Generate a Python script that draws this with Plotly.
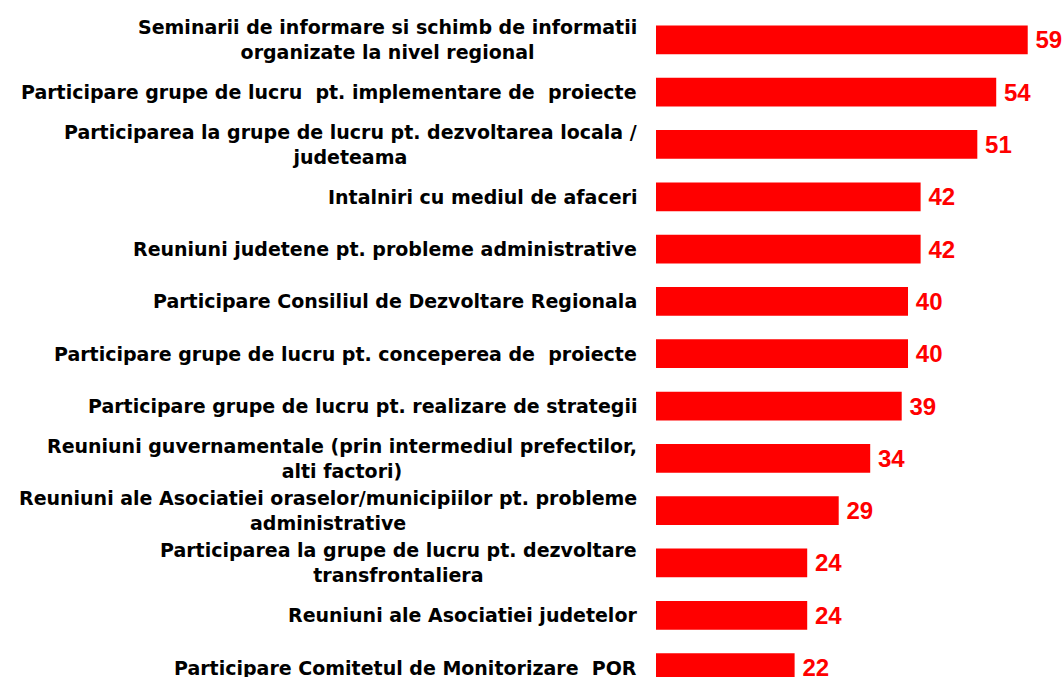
import plotly.graph_objects as go

categories = [
    "Seminarii de informare si schimb de informatii<br>organizate la nivel regional",
    "Participare grupe de lucru  pt. implementare de  proiecte",
    "Participarea la grupe de lucru pt. dezvoltarea locala /<br>judeteama",
    "Intalniri cu mediul de afaceri",
    "Reuniuni judetene pt. probleme administrative",
    "Participare Consiliul de Dezvoltare Regionala",
    "Participare grupe de lucru pt. conceperea de  proiecte",
    "Participare grupe de lucru pt. realizare de strategii",
    "Reuniuni guvernamentale (prin intermediul prefectilor,<br>alti factori)",
    "Reuniuni ale Asociatiei oraselor/municipiilor pt. probleme<br>administrative",
    "Participarea la grupe de lucru pt. dezvoltare<br>transfrontaliera",
    "Reuniuni ale Asociatiei judetelor",
    "Participare Comitetul de Monitorizare  POR",
]
values = [59, 54, 51, 42, 42, 40, 40, 39, 34, 29, 24, 24, 22]

positions = list(range(len(categories)))
LABEL_FONT = "DejaVu Sans, Liberation Sans, Arial, sans-serif"
VALUE_FONT = "Liberation Sans, Arial, sans-serif"

fig = go.Figure()
fig.add_trace(go.Bar(
    x=values,
    y=positions,
    orientation="h",
    marker=dict(color="#FF0000", line=dict(width=0)),
    width=0.55,
    text=[f"\u2009{v}" for v in values],
    textposition="outside",
    textfont=dict(family=VALUE_FONT, size=24, color="#FF0000", weight="bold"),
    constraintext="none",
    cliponaxis=False,
    hoverinfo="skip",
))

for p, c in zip(positions, categories):
    fig.add_annotation(
        x=0, y=p, xref="x", yref="y",
        text=c, showarrow=False,
        xanchor="right", yanchor="middle", align="center",
        xshift=-17,
        font=dict(family=LABEL_FONT, size=19, color="#000000", weight="bold"),
    )

fig.update_layout(
    width=1063, height=677,
    margin=dict(l=656, r=0, t=0, b=0),
    paper_bgcolor="white", plot_bgcolor="white",
    showlegend=False,
    bargap=0.45,
)
fig.update_xaxes(range=[0, 64.6], visible=False, showgrid=False, zeroline=False)
fig.update_yaxes(range=[12.18, -0.762], visible=False, showgrid=False, zeroline=False)

fig.write_html(
    "out.html",
    config={"displayModeBar": False},
    post_script="document.body.style.margin='0';document.body.style.overflow='hidden';",
)
